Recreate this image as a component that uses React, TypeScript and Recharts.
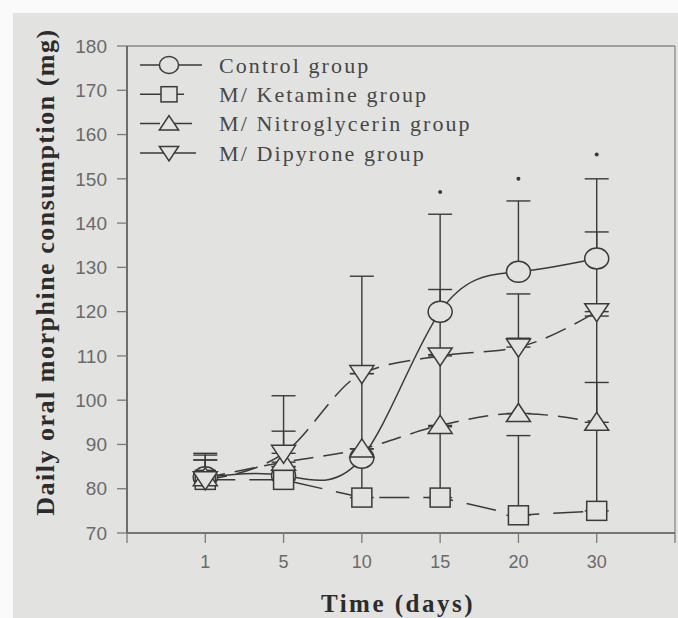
import { ComposedChart, ErrorBar, Legend, Line, ReferenceLine, XAxis, YAxis } from 'recharts';

// values (mg/day), one-sided upper error bars
const days = ['1', '5', '10', '15', '20', '30'];
const controlGroup = [82.6, 83, 87, 120, 129, 132];
const controlErr = [5, 2, 2, 22, 16, 18];
const ketamineGroup = [82, 82, 78, 78, 74, 75];
const ketamineErr = [4.5, 3, 9, 16, 18, 44];
const nitroGroup = [82.5, 86, 89, 94.3, 97, 95];
const nitroErr = [4, 7, 17, 16, 17, 9];
const dipyroneGroup = [82, 88, 106, 110, 112, 120];
const dipyroneErr = [6, 13, 22, 15, 12, 18];
const significance = [null, null, null, 147, 150, 155.5];
const yTicks = [70, 80, 90, 100, 110, 120, 130, 140, 150, 160, 170, 180];
const xTicks = [-1, 0, 1, 2, 3, 4, 5, 6];

const INK = '#3a3a3a';
const BG = '#e2e2e0';
const SERIF = '"Liberation Serif", "Times New Roman", serif';
const SANS = '"Liberation Sans", Arial, sans-serif';

const data = days.map((day, i) => ({
  idx: i,
  day,
  control: controlGroup[i],
  controlErr: [0, controlErr[i]],
  ketamine: ketamineGroup[i],
  ketamineErr: [0, ketamineErr[i]],
  nitro: nitroGroup[i],
  nitroErr: [0, nitroErr[i]],
  dipyrone: dipyroneGroup[i],
  dipyroneErr: [0, dipyroneErr[i]],
  sig: significance[i],
}));

type Kind = 'circle' | 'square' | 'up' | 'down';

function Marker({ kind, cx, cy, s = 1 }: { kind: Kind; cx: number; cy: number; s?: number }) {
  const common = { fill: BG, stroke: INK, strokeWidth: 1.5 };
  if (kind === 'circle') return <ellipse cx={cx} cy={cy} rx={12 * s} ry={10.5 * s} {...common} />;
  if (kind === 'square')
    return <rect x={cx - 10 * s} y={cy - 9.5 * s} width={20 * s} height={19 * s} {...common} />;
  if (kind === 'up')
    return (
      <polygon
        points={`${cx},${cy - 10 * s} ${cx + 12 * s},${cy + 8 * s} ${cx - 12 * s},${cy + 8 * s}`}
        {...common}
      />
    );
  return (
    <polygon
      points={`${cx - 12 * s},${cy - 8 * s} ${cx + 12 * s},${cy - 8 * s} ${cx},${cy + 10 * s}`}
      {...common}
    />
  );
}

const makeDot = (kind: Kind) => (props: any) => {
  const { cx, cy, index } = props;
  if (cx == null || cy == null) return <g key={index} />;
  return (
    <g key={index}>
      <Marker kind={kind} cx={cx} cy={cy} />
    </g>
  );
};

const sigDot = (props: any) => {
  const { cx, cy, index, value } = props;
  if (cx == null || cy == null || value == null) return <g key={index} />;
  return <circle key={index} cx={cx} cy={cy} r={2} fill={INK} />;
};

const legendRows: { name: string; kind: Kind; dash?: string; lineEnd: number }[] = [
  { name: 'Control group', kind: 'circle', lineEnd: 64 },
  { name: 'M/ Ketamine group', kind: 'square', lineEnd: 46 },
  { name: 'M/ Nitroglycerin group', kind: 'up', dash: '20 12', lineEnd: 60 },
  { name: 'M/ Dipyrone group', kind: 'down', lineEnd: 58 },
];

function LegendBox() {
  return (
    <svg width={360} height={120}>
      {legendRows.map((row, i) => {
        const y = 15 + i * 29.3;
        return (
          <g key={row.name}>
            <line x1={2} x2={row.lineEnd} y1={y} y2={y} stroke={INK} strokeWidth={1.5} strokeDasharray={row.dash} />
            <Marker kind={row.kind} cx={31} cy={y} s={0.8} />
            <text
              x={81}
              y={y}
              dy="0.35em"
              fontFamily={SERIF}
              fontSize={22}
              letterSpacing={2.1}
              fill="#474747"
            >
              {row.name}
            </text>
          </g>
        );
      })}
    </svg>
  );
}

const yTitle = () => (
  <text
    x={45}
    y={272}
    transform="rotate(-90 45 272)"
    textAnchor="middle"
    dominantBaseline="central"
    fontFamily={SERIF}
    fontWeight="bold"
    fontSize={26}
    letterSpacing={1.5}
    fill="#2c2c2c"
  >
    Daily oral morphine consumption (mg)
  </text>
);

const xTitle = () => (
  <text
    x={398}
    y={603}
    textAnchor="middle"
    dominantBaseline="central"
    fontFamily={SERIF}
    fontWeight="bold"
    fontSize={25}
    letterSpacing={2.5}
    fill="#2c2c2c"
  >
    Time (days)
  </text>
);

export default function App() {
  return (
    <div style={{ position: 'absolute', left: 0, top: 0, width: 678, height: 618, background: '#fafafa' }}>
      <div style={{ position: 'absolute', left: 13, top: 13, right: 0, bottom: 0, background: BG }} />
      <div style={{ position: 'absolute', left: 0, top: 0 }}>
        <ComposedChart width={678} height={618} data={data} margin={{ top: 46, right: 3, left: 67, bottom: 55 }}>
          <XAxis
            type="number"
            dataKey="idx"
            domain={[-1, 6]}
            ticks={xTicks}
            interval={0}
            tickFormatter={(v: number) => days[v] ?? ''}
            height={30}
            tickSize={10}
            tickMargin={12}
            axisLine={{ stroke: '#505050', strokeWidth: 1.6 }}
            tickLine={{ stroke: '#7a7a7a', strokeWidth: 1.3 }}
            tick={{ fill: '#6a6a6a', fontSize: 18, fontFamily: SANS }}
            label={xTitle}
          />
          <YAxis
            type="number"
            domain={[70, 180]}
            ticks={yTicks}
            interval={0}
            width={60}
            tickSize={10}
            tickMargin={10}
            axisLine={{ stroke: '#505050', strokeWidth: 1.6 }}
            tickLine={{ stroke: '#7a7a7a', strokeWidth: 1.3 }}
            tick={{ fill: '#6a6a6a', fontSize: 19, fontFamily: SANS }}
            label={yTitle}
          />
          <ReferenceLine y={180} stroke="#8a8a8a" strokeWidth={1.3} />
          <ReferenceLine x={6} stroke="#8a8a8a" strokeWidth={1.3} />

          <Line
            dataKey="control"
            type="natural"
            stroke={INK}
            strokeWidth={1.5}
            dot={makeDot('circle')}
            isAnimationActive={false}
          >
            <ErrorBar dataKey="controlErr" direction="y" width={12} stroke={INK} strokeWidth={1.4} />
          </Line>
          <Line
            dataKey="ketamine"
            type="linear"
            stroke={INK}
            strokeWidth={1.5}
            strokeDasharray="30 14"
            dot={makeDot('square')}
            isAnimationActive={false}
          >
            <ErrorBar dataKey="ketamineErr" direction="y" width={12} stroke={INK} strokeWidth={1.4} />
          </Line>
          <Line
            dataKey="nitro"
            type="monotone"
            stroke={INK}
            strokeWidth={1.5}
            strokeDasharray="20 10"
            dot={makeDot('up')}
            isAnimationActive={false}
          >
            <ErrorBar dataKey="nitroErr" direction="y" width={12} stroke={INK} strokeWidth={1.4} />
          </Line>
          <Line
            dataKey="dipyrone"
            type="monotone"
            stroke={INK}
            strokeWidth={1.5}
            strokeDasharray="22 10"
            dot={makeDot('down')}
            isAnimationActive={false}
          >
            <ErrorBar dataKey="dipyroneErr" direction="y" width={12} stroke={INK} strokeWidth={1.4} />
          </Line>
          <Line dataKey="sig" stroke="none" dot={sigDot} activeDot={false} legendType="none" isAnimationActive={false} />

          <Legend
            layout="horizontal"
            verticalAlign="middle"
            align="center"
            content={() => <LegendBox />}
            wrapperStyle={{ top: 50, left: 138, width: 360, height: 120 }}
          />
        </ComposedChart>
      </div>
    </div>
  );
}
